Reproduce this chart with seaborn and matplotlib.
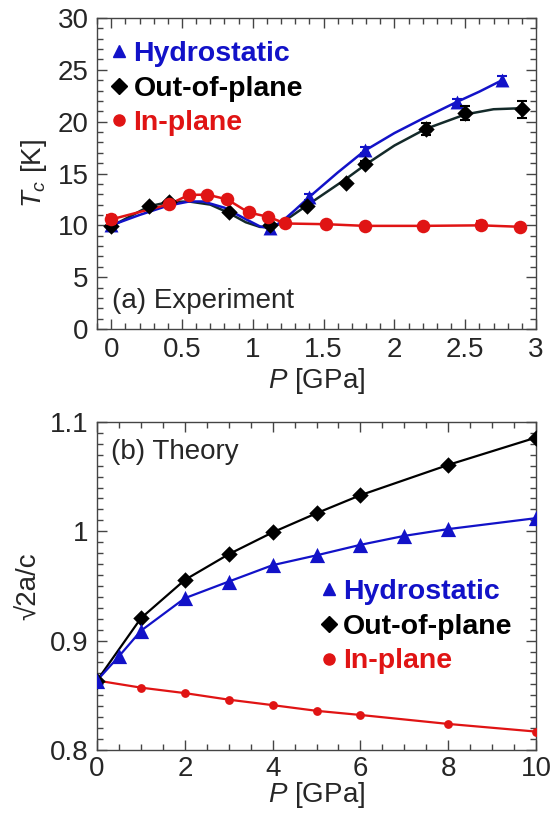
import matplotlib
matplotlib.use("Agg")
import matplotlib.pyplot as plt
import seaborn as sns
import pandas as pd
from matplotlib.lines import Line2D
from matplotlib.ticker import MultipleLocator, FuncFormatter

sns.set_style("ticks")
plt.rcParams["font.family"] = ["Liberation Sans", "DejaVu Sans"]
plt.rcParams["mathtext.fontset"] = "custom"
plt.rcParams["mathtext.rm"] = "Liberation Sans"
plt.rcParams["mathtext.it"] = "Liberation Sans:italic"

BLUE = "#1212c8"
BLACK = "#000000"
DARK = "#142a2a"
RED = "#e01414"

# ---- (a) Experiment: Tc versus pressure ----
hydro_P = [0.0, 1.12, 1.40, 1.79, 2.44, 2.76]
hydro_Tc = [10.0, 9.76, 12.75, 17.24, 21.9, 24.0]
hydro_err = [0.0, 0.0, 0.3, 0.3, 0.3, 0.4]

oop_P = [0.0, 0.27, 0.41, 0.83, 1.12, 1.38, 1.66, 1.79, 2.22, 2.50, 2.90]
oop_Tc = [9.92, 11.85, 12.3, 11.25, 10.0, 11.89, 14.1, 15.9, 19.3, 20.84, 21.2]
oop_err = [0.0, 0.0, 0.0, 0.0, 0.0, 0.0, 0.0, 0.3, 0.6, 0.7, 0.8]

inp_P = [0.0, 0.41, 0.55, 0.68, 0.82, 0.97, 1.11, 1.23, 1.52, 1.79, 2.20, 2.61, 2.89]
inp_Tc = [10.57, 12.04, 12.94, 12.96, 12.5, 11.24, 10.82, 10.18, 10.11, 9.95, 9.95, 10.0, 9.86]
inp_err = [0.4, 0.0, 0.0, 0.0, 0.0, 0.0, 0.0, 0.0, 0.0, 0.0, 0.0, 0.4, 0.0]

# guide curves through the hydrostatic and out-of-plane data
hydro_fit_P = [0.0, 0.2, 0.4, 0.55, 0.65, 0.8, 0.95, 1.05, 1.12, 1.2, 1.3, 1.4,
               1.6, 1.79, 2.0, 2.2, 2.44, 2.6, 2.76]
hydro_fit_Tc = [10.0, 11.0, 11.9, 12.3, 12.3, 11.7, 10.6, 9.9, 9.75, 10.3, 11.5, 12.75,
                15.1, 17.2, 18.9, 20.3, 21.9, 22.9, 24.0]
oop_fit_P = [0.0, 0.27, 0.41, 0.55, 0.7, 0.83, 0.95, 1.05, 1.12, 1.2, 1.38, 1.66,
             1.79, 2.0, 2.22, 2.5, 2.7, 2.9]
oop_fit_Tc = [9.9, 11.85, 12.25, 12.3, 12.0, 11.2, 10.3, 9.85, 9.8, 10.2, 11.9, 14.5,
              15.8, 17.7, 19.3, 20.7, 21.2, 21.3]

# ---- (b) Theory: sqrt(2) a / c versus pressure ----
th_hydro_P = [0, 0.5, 1, 2, 3, 4, 5, 6, 7, 8, 10]
th_hydro_r = [0.8635, 0.8857, 0.909, 0.9388, 0.954, 0.969, 0.978, 0.9876, 0.9958, 1.002, 1.012]
th_oop_P = [0, 1, 2, 3, 4, 5, 6, 8, 10]
th_oop_r = [0.8635, 0.9205, 0.9555, 0.979, 0.999, 1.0165, 1.0330, 1.0607, 1.0857]
th_inp_P = [0, 1, 2, 3, 4, 5, 6, 8, 10]
th_inp_r = [0.8635, 0.857, 0.852, 0.846, 0.841, 0.8358, 0.832, 0.8238, 0.8168]

legend_labels = ["Hydrostatic", "Out-of-plane", "In-plane"]
legend_colors = [BLUE, BLACK, RED]
legend_markers = ["^", "D", "o"]

fig = plt.figure(figsize=(5.56, 8.15), dpi=100)
ax1 = fig.add_axes([0.1745, 0.5963, 0.7896, 0.3816])
ax2 = fig.add_axes([0.1745, 0.0798, 0.7896, 0.4025])


def df(x, y):
    return pd.DataFrame({"P": x, "v": y})


# panel (a)
sns.lineplot(data=df(oop_fit_P, oop_fit_Tc), x="P", y="v", ax=ax1, color=DARK,
             lw=1.8, sort=False, zorder=2)
sns.lineplot(data=df(hydro_fit_P, hydro_fit_Tc), x="P", y="v", ax=ax1, color=BLUE,
             lw=1.8, sort=False, zorder=3)
sns.lineplot(data=df(inp_P, inp_Tc), x="P", y="v", ax=ax1, color=RED,
             lw=1.8, sort=False, zorder=4)

for P, T, E, c, m, s, z in [(hydro_P, hydro_Tc, hydro_err, BLUE, "^", 100, 5),
                            (oop_P, oop_Tc, oop_err, BLACK, "D", 70, 6),
                            (inp_P, inp_Tc, inp_err, RED, "o", 95, 7)]:
    ax1.errorbar(P, T, yerr=E, fmt="none", ecolor=c, elinewidth=1.5, capsize=3.5,
                 capthick=1.5, zorder=z)
    sns.scatterplot(data=df(P, T), x="P", y="v", ax=ax1, color=c, marker=m, s=s,
                    edgecolor=c, linewidth=0, zorder=z)

ax1.set_xlim(-0.1, 3.0)
ax1.set_ylim(0, 30)
ax1.xaxis.set_major_locator(MultipleLocator(0.5))
ax1.xaxis.set_minor_locator(MultipleLocator(0.1))
ax1.yaxis.set_major_locator(MultipleLocator(5))
ax1.yaxis.set_minor_locator(MultipleLocator(1))
ax1.xaxis.set_major_formatter(FuncFormatter(lambda v, p: f"{round(v, 2):g}"))
ax1.set_xlabel(r"$P$ [GPa]", fontsize=20, labelpad=2)
ax1.set_ylabel(r"$T_c$ [K]", fontsize=20, labelpad=6)
ax1.text(0.034, 0.09, "(a) Experiment", transform=ax1.transAxes, fontsize=20,
         va="center", ha="left")

# panel (b)
sns.lineplot(data=df(th_inp_P, th_inp_r), x="P", y="v", ax=ax2, color=RED,
             lw=1.6, sort=False, zorder=2)
sns.lineplot(data=df(th_oop_P, th_oop_r), x="P", y="v", ax=ax2, color=BLACK,
             lw=1.6, sort=False, zorder=3)
sns.lineplot(data=df(th_hydro_P, th_hydro_r), x="P", y="v", ax=ax2, color=BLUE,
             lw=1.6, sort=False, zorder=4)
sns.scatterplot(data=df(th_inp_P, th_inp_r), x="P", y="v", ax=ax2, color=RED,
                marker="o", s=40, linewidth=0, zorder=5)
sns.scatterplot(data=df(th_oop_P, th_oop_r), x="P", y="v", ax=ax2, color=BLACK,
                marker="D", s=70, linewidth=0, zorder=6)
sns.scatterplot(data=df(th_hydro_P, th_hydro_r), x="P", y="v", ax=ax2, color=BLUE,
                marker="^", s=120, linewidth=0, zorder=7)

ax2.set_xlim(0, 10)
ax2.set_ylim(0.8, 1.1)
ax2.xaxis.set_major_locator(MultipleLocator(2))
ax2.xaxis.set_minor_locator(MultipleLocator(0.5))
ax2.yaxis.set_major_locator(MultipleLocator(0.1))
ax2.yaxis.set_minor_locator(MultipleLocator(0.01))
ax2.yaxis.set_major_formatter(FuncFormatter(lambda v, p: f"{round(v, 2):g}"))
ax2.set_xlabel(r"$P$ [GPa]", fontsize=20, labelpad=-1)
ax2.set_ylabel("√2a/c", fontsize=20, labelpad=6)
ax2.text(0.031, 0.909, "(b) Theory", transform=ax2.transAxes, fontsize=20,
         va="center", ha="left")

for ax in (ax1, ax2):
    ax.tick_params(which="both", direction="in", top=True, right=True,
                   labelsize=20, width=1.0, color="#444444", pad=6)
    ax.tick_params(which="major", length=7)
    ax.tick_params(which="minor", length=4)
    for sp in ax.spines.values():
        sp.set_color("#444444")
        sp.set_linewidth(1.0)
ax2.tick_params(axis="x", which="both", pad=4)

handles = [Line2D([], [], ls="none", marker=m, color=c, markersize=8)
           for m, c in zip(legend_markers, legend_colors)]
leg_kw = dict(frameon=False, handlelength=0.6, handletextpad=0.2, borderaxespad=0,
              borderpad=0, labelspacing=0.3, prop={"weight": "bold", "size": 20.5},
              labelcolor=legend_colors, loc="upper left")
ax1.legend(handles, legend_labels, bbox_to_anchor=(0.031, 0.925), **leg_kw)
ax2.legend(handles, legend_labels, bbox_to_anchor=(0.509, 0.52), **leg_kw)

fig.savefig("out.png", dpi=100)
